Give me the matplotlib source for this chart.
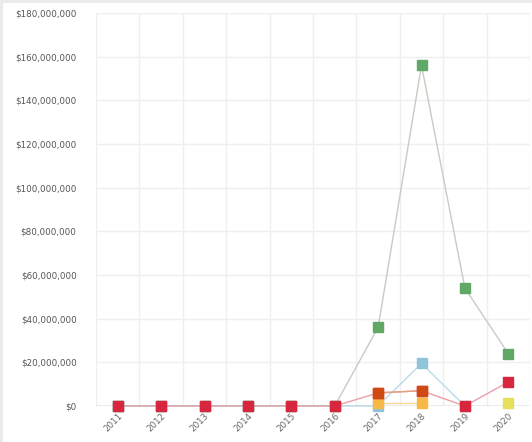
import numpy as np
import matplotlib
matplotlib.use("Agg")
import matplotlib.pyplot as plt
from matplotlib.ticker import FuncFormatter, FixedLocator

years = ["2011", "2012", "2013", "2014", "2015", "2016", "2017", "2018", "2019", "2020"]
nan = np.nan

# Annual amounts (USD) per category
green_vals  = [0, 0, 0, 0, 0, 0, 36e6, 156e6, 54e6, 24e6]
blue_vals   = [0, 0, 0, 0, 0, 0, 0, 19.5e6, 0, nan]
gold_vals   = [nan, nan, nan, nan, nan, nan, 1.2e6, 1.2e6, nan, nan]
red_vals    = [0, 0, 0, 0, 0, 0, 6e6, 7e6, 0, 11e6]
orange_vals = [nan, nan, nan, nan, nan, nan, 6e6, 7e6, nan, nan]
lemon_vals  = [nan, nan, nan, nan, nan, nan, nan, nan, nan, 1.2e6]

series = [
    (green_vals,  "#5fa866", "#c9cbc2"),
    (blue_vals,   "#8fc4da", "#b8dcea"),
    (gold_vals,   "#f6b945", "#f8d79a"),
    (red_vals,    "#d7263d", "#eaa0a8"),
    (orange_vals, "#cf4a12", "#e6a07c"),
    (lemon_vals,  "#e6df5c", "#efeaa0"),
]

fig = plt.figure(figsize=(5.32, 4.42), dpi=100)
fig.patch.set_facecolor("white")
ax = fig.add_axes([96 / 532, 1 - 406 / 442, 434 / 532, 393 / 442])

x = np.arange(len(years))
for vals, mcolor, lcolor in series:
    ax.plot(x, vals, color=lcolor, lw=1.0, zorder=2, clip_on=False)
for vals, mcolor, lcolor in series:
    ax.plot(x, vals, linestyle="none", marker="s", markersize=7.8,
            markerfacecolor=mcolor, markeredgecolor=mcolor, zorder=4, clip_on=False)

ax.axhline(0, color="#a7b19b", lw=1.0, zorder=3)

ax.set_xlim(-0.5, len(years) - 0.5)
ax.set_ylim(0, 180e6)
ax.set_yticks(np.arange(0, 180e6 + 1, 20e6))
ax.yaxis.set_major_formatter(FuncFormatter(lambda v, p: f"${v:,.0f}"))
ax.set_xticks(x)
ax.set_xticklabels(years, rotation=45, ha="right", rotation_mode="anchor")
ax.xaxis.set_minor_locator(FixedLocator(np.arange(-0.5, len(years), 1.0)))

ax.grid(axis="y", which="major", color="#efefef", lw=1.0, zorder=0)
ax.grid(axis="x", which="minor", color="#efefef", lw=1.0, zorder=0)
ax.grid(axis="x", which="major", visible=False)
ax.tick_params(axis="both", which="both", length=0)
ax.tick_params(axis="y", pad=14, labelsize=6.3, labelcolor="#555555")
ax.tick_params(axis="x", pad=4, labelsize=6.3, labelcolor="#666666")
for s in ax.spines.values():
    s.set_visible(False)

# thin grey bands along the top and left edges of the panel
fig.add_artist(plt.Rectangle((0, 1 - 3 / 442), 1, 3 / 442, transform=fig.transFigure,
                             facecolor="#ebebeb", edgecolor="none"))
fig.add_artist(plt.Rectangle((0, 0), 3 / 532, 1, transform=fig.transFigure,
                             facecolor="#ebebeb", edgecolor="none"))

fig.savefig("out.png", dpi=100)
